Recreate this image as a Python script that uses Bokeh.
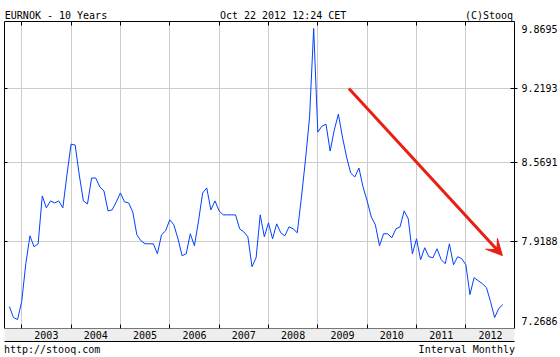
from bokeh.plotting import figure
from bokeh.models import (Range1d, FixedTicker, LinearAxis, Arrow, VeeHead,
                          ColumnDataSource)
from bokeh.embed import file_html
from bokeh.resources import INLINE

# ---- data (monthly EURNOK closes, Oct 2002 .. Oct 2012) ----
start_year = 2002
start_month = 10
eurnok = [
    7.4231, 7.3428, 7.3282, 7.4600, 7.7460, 7.9637, 7.8775, 7.9009, 8.2854, 8.1876,
    8.2445, 8.2282, 8.2445, 8.1876, 8.4595, 8.7232, 8.7146, 8.4595, 8.2445, 8.2201,
    8.4344, 8.4344, 8.3596, 8.3265, 8.1633, 8.1714, 8.2364, 8.3101, 8.2364, 8.2282,
    8.1552, 7.9716, 7.9244, 7.9009, 7.9009, 7.9009, 7.8231, 7.9716, 8.0033, 8.0909,
    8.0509, 7.9401, 7.8076, 7.8231, 7.9795, 7.8853, 8.0829, 8.3101, 8.3513, 8.1714,
    8.2445, 8.1633, 8.1310, 8.1310, 8.1310, 8.1310, 8.0191, 7.9953, 7.9558, 7.7230,
    7.7922, 8.1310, 7.9558, 8.0669, 7.9401, 8.0589, 7.9874, 7.9637, 8.0350, 8.0191,
    7.9874, 8.2691, 8.5861, 8.9595, 9.7848, 8.8275, 8.8800, 8.8977, 8.6629, 8.8449,
    8.9862, 8.7839, 8.6116, 8.4763, 8.4428, 8.5183, 8.3596, 8.2445, 8.1149, 8.0509,
    7.8853, 7.9795, 7.9795, 7.9480, 8.0191, 8.0350, 8.1633, 8.0989, 7.8231, 7.9401,
    7.7768, 7.8697, 7.7999, 7.7922, 7.8619, 7.7768, 7.7460, 7.9009, 7.7383, 7.7999,
    7.7845, 7.7383, 7.5119, 7.6394, 7.6167, 7.5941, 7.5641, 7.4600, 7.3428, 7.4085,
    7.4379,
]
years = [2003, 2004, 2005, 2006, 2007, 2008, 2009, 2010, 2011, 2012]
year_labels = ["2003", "2004", "2005", "2006", "2007", "2008", "2009", "2010", "2011", "2012"]
# value-axis labels and where they are written (extremes are clamped into the frame)
y_ticks = [7.9188, 8.5691, 9.2193]
y_label_pos = [7.3209, 7.9188, 8.5691, 9.2193, 9.782]
y_label_text = ["7.2686", "7.9188", "8.5691", "9.2193", "9.8695"]
# header / footer texts and their centre positions (in years)
header_text = ["EURNOK - 10 Years", "Oct 22 2012 12:24 CET", "(C)Stooq"]
header_pos = [2003.695, 2008.297, 2012.469]
footer_text = ["http://stooq.com", "Interval Monthly"]
footer_pos = [2003.616, 2012.019]
arrow_x = [2009.63, 2012.74]
arrow_y = [9.218, 7.809]

x = [start_year + (start_month - 1 + i) / 12.0 for i in range(len(eurnok))]
src = ColumnDataSource(dict(x=x, y=eurnok))

FONT = "DejaVu Sans Mono"
FS = "10px"
RED = "#ea1f14"

p = figure(width=560, height=357,
           x_range=Range1d(2002.6515, 2012.9858),
           y_range=Range1d(7.2632, 9.8528),
           y_axis_type="log", y_axis_location="right",
           output_backend="svg", toolbar_location=None,
           min_border_left=4, min_border_right=46,
           min_border_top=21, min_border_bottom=28,
           background_fill_color="white", border_fill_color="white",
           outline_line_color="black", outline_line_width=1)


def style_labels(ax):
    ax.major_label_text_font = FONT
    ax.major_label_text_font_size = FS
    ax.major_label_text_color = "black"


# bottom axis: grey band with year labels centred in each year, ticks at year starts
xa = p.xaxis[0]
xa.ticker = FixedTicker(ticks=[y + 0.5 for y in years], minor_ticks=years)
xa.major_label_overrides = {y + 0.5: lab for y, lab in zip(years, year_labels)}
xa.major_tick_in = 0
xa.major_tick_out = 0
xa.minor_tick_in = 4
xa.minor_tick_out = 0
xa.minor_tick_line_color = "black"
xa.axis_line_color = None
xa.major_label_standoff = 2
xa.background_fill_color = "#eeeeee"
style_labels(xa)

# footer axis: its line closes the band, its labels are the footer texts
xf = LinearAxis(ticker=FixedTicker(ticks=footer_pos), axis_line_color="black",
                major_tick_in=0, major_tick_out=0, minor_tick_in=0, minor_tick_out=0,
                major_label_standoff=2)
xf.major_label_overrides = {pos: t for pos, t in zip(footer_pos, footer_text)}
style_labels(xf)
p.add_layout(xf, "below")

# header axis: top ticks at year starts + header texts
xt = LinearAxis(ticker=FixedTicker(ticks=header_pos, minor_ticks=years), axis_line_color=None,
                major_tick_in=0, major_tick_out=0, minor_tick_in=4, minor_tick_out=0,
                minor_tick_line_color="black", major_label_standoff=1)
xt.major_label_overrides = {pos: t for pos, t in zip(header_pos, header_text)}
style_labels(xt)
p.add_layout(xt, "above")

# right value axis: labels as major ticks (no marks), marks at grid values as minor ticks
ya = p.yaxis[0]
ya.ticker = FixedTicker(ticks=y_label_pos, minor_ticks=y_ticks)
ya.major_label_overrides = {pos: t for pos, t in zip(y_label_pos, y_label_text)}
ya.major_tick_in = 0
ya.major_tick_out = 0
ya.minor_tick_in = 4
ya.minor_tick_out = 3
ya.minor_tick_line_color = "black"
ya.axis_line_color = None
ya.major_label_standoff = 4
style_labels(ya)

# left side tick marks
yl = LinearAxis(ticker=FixedTicker(ticks=[], minor_ticks=y_ticks), axis_line_color=None,
                major_tick_in=0, major_tick_out=0, minor_tick_in=3, minor_tick_out=0,
                minor_tick_line_color="black", major_label_standoff=0,
                major_label_text_font_size="0px")
p.add_layout(yl, "left")

p.xgrid.ticker = FixedTicker(ticks=years)
p.ygrid.ticker = FixedTicker(ticks=y_ticks)
p.xgrid.grid_line_color = "#cccccc"
p.ygrid.grid_line_color = "#cccccc"

p.line("x", "y", source=src, line_color="#0040ff", line_width=1)

p.add_layout(Arrow(end=VeeHead(size=16, fill_color=RED, line_color=RED),
                   x_start=arrow_x[0], y_start=arrow_y[0],
                   x_end=arrow_x[1], y_end=arrow_y[1],
                   line_color=RED, line_width=3))

open("out.html", "w").write(file_html(p, INLINE))
